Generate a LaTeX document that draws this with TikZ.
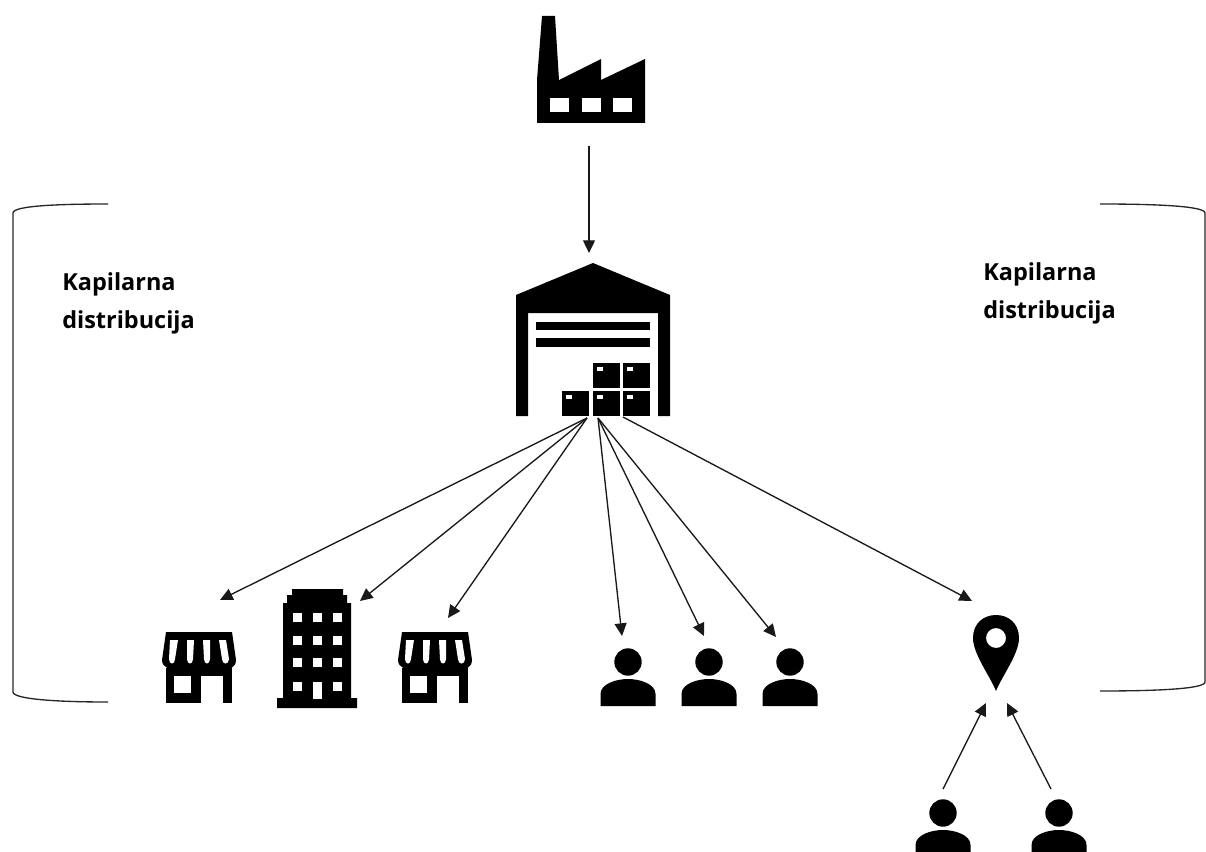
\documentclass[tikz,border=0pt]{standalone}
\usepackage{fontspec}
\setmainfont{Open Sans}
\usetikzlibrary{arrows.meta}
\tikzset{
    icon/.style={fill=black, draw=none},
    hole/.style={fill=white, draw=none},
    arrow/.style={-{Triangle[length=9.5pt,width=9pt]}, line width=1pt, black!90},
    bracket/.style={draw=black!85, line width=1pt},
    caption/.style={align=left, anchor=north west, font=\fontsize{17.6}{29}\selectfont\bfseries, inner sep=0pt},
    pics/person/.style={code={
        \fill[icon] (0,-18) circle (13.7);
        \fill[icon] (-27.5,26) -- (-27.5,14) .. controls (-27.5,4) and (-12,-1) .. (0,-1)
            .. controls (12,-1) and (27.5,4) .. (27.5,14) -- (27.5,26) -- cycle;
    }},
    pics/store/.style={code={
        \fill[icon] (0,0) -- (66,0) -- (70,28) .. controls (70,36) and (62,39) .. (56,36)
            .. controls (52,39) and (46,39) .. (42,36) .. controls (38,39) and (30,39) .. (26,36)
            .. controls (22,39) and (14,39) .. (10,36) .. controls (6,39) and (-4,36) .. (-4,28) -- cycle;
        \foreach \xa/\xb/\xc/\xd in {4/12/3/9, 21/28/21/27, 37/44/38/44, 53/60/56/63}
            \fill[hole] (\xa,8) -- (\xb,8) -- (\xd,27) .. controls (\xd,33) and (\xc,33) .. (\xc,27) -- cycle;
        \fill[icon] (0,36) rectangle (66,44);
        \fill[icon] (0,36) rectangle (35,71);
        \fill[icon] (57,36) rectangle (66,71);
        \fill[hole] (8,44) rectangle (25,61);
    }},
    pics/tower/.style={code={
        \fill[icon] (15,0) -- (66,0) -- (66,6) -- (70,6) -- (70,14) -- (74,14) -- (74,109) -- (80,109)
            -- (80,119) -- (0,119) -- (0,109) -- (6,109) -- (6,14) -- (10,14) -- (10,6) -- (15,6) -- cycle;
        \foreach \row in {24,47,69,93}
            \foreach \col in {16,36,56}
                \fill[hole] (\col,\row) rectangle ++(9,9);
        \fill[hole] (36,93) rectangle (45,110);
    }},
}
\begin{document}
\begin{tikzpicture}[x=0.75pt, y=-0.75pt]
    \clip (0,0) rectangle (1206,852);

    % Fabrik
    \fill[icon] (542,16) -- (555,16) -- (559,80) -- (601,59) -- (601,80) -- (645,59) -- (645,123)
        -- (537,123) -- (537,80) -- cycle;
    \foreach \x in {550,582,613}
        \fill[hole] (\x,98) rectangle ++(19,14);

    % Lager
    \fill[icon] (593,263) -- (670,295) -- (670,416) -- (658,416) -- (658,313) -- (528,313)
        -- (528,416) -- (516,416) -- (516,295) -- cycle;
    \fill[icon] (536,322) rectangle (650,330);
    \fill[icon] (536,338) rectangle (650,347);
    \foreach \x/\y in {593/363, 623/363, 562/391, 593/391, 623/391} {
        \fill[icon] (\x,\y) rectangle ++(26.5,25);
        \fill[hole] (\x+4,\y+4) rectangle ++(6,3.5);
    }

    % Ziele
    \pic at (166,632) {store};
    \pic at (277,589) {tower};
    \pic at (402,632) {store};
    \pic at (628,680) {person};
    \pic at (709,680) {person};
    \pic at (790,680) {person};
    \pic at (943,831) {person};
    \pic at (1059,831) {person};

    % Stecknadel
    \path[icon, even odd rule] (996,691) .. controls (990,676) and (973,654) .. (973,638)
        .. controls (973,623) and (984,615) .. (996,615) .. controls (1008,615) and (1019,623) .. (1019,638)
        .. controls (1019,654) and (1002,676) .. (996,691) -- cycle (996,638) circle (10);

    % Klammern
    \draw[bracket] (108,204) .. controls (55,204) and (13,206) .. (13,213) -- (13,692)
        .. controls (13,699) and (55,702) .. (108,702);
    \draw[bracket] (1100,204) .. controls (1155,204) and (1205,206) .. (1205,213) -- (1205,682)
        .. controls (1205,689) and (1155,691) .. (1100,691);

    % Texte
    \node[caption] (captionleft) at (62,272) {Kapilarna\\distribucija};
    \node[caption] (captionright) at (983,262) {Kapilarna\\distribucija};

    % Endpunkte
    \coordinate (factoryout) at (589,146);
    \coordinate (hubin) at (589,253);
    \coordinate (hubleft) at (587,418);
    \coordinate (hubmid) at (598,418);
    \coordinate (hubright) at (623,417);
    \coordinate (storeonein) at (220,600);
    \coordinate (towerin) at (360,601);
    \coordinate (storetwoin) at (448,618);
    \coordinate (personain) at (622,636);
    \coordinate (personbin) at (704,636);
    \coordinate (personcin) at (776,637);
    \coordinate (pinin) at (972,601);
    \coordinate (pinleft) at (986,703);
    \coordinate (pinright) at (1007,703);
    \coordinate (persondout) at (943,789);
    \coordinate (personeout) at (1051,789);

    % Pfeile
    \draw[arrow] (factoryout) -- (hubin);
    \draw[arrow] (hubleft) -- (storeonein);
    \draw[arrow] (hubleft) -- (towerin);
    \draw[arrow] (hubleft) -- (storetwoin);
    \draw[arrow] (hubmid) -- (personain);
    \draw[arrow] (hubmid) -- (personbin);
    \draw[arrow] (hubmid) -- (personcin);
    \draw[arrow] (hubright) -- (pinin);
    \draw[arrow] (persondout) -- (pinleft);
    \draw[arrow] (personeout) -- (pinright);
\end{tikzpicture}
\end{document}
